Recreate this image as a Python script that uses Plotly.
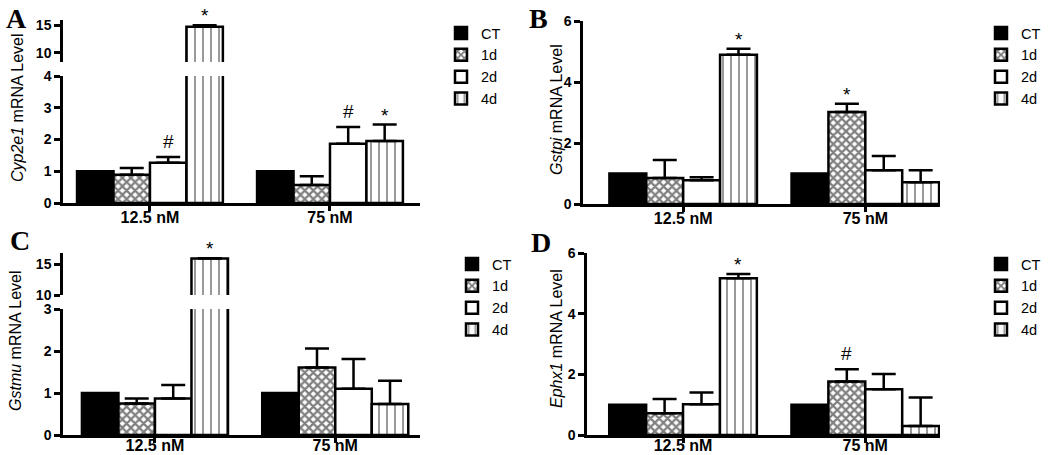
import plotly.graph_objects as go

# ---------------- data ----------------
categories = ["12.5 nM", "75 nM"]
series_names = ["CT", "1d", "2d", "4d"]

# Panel A: Cyp2e1
cyp2e1_mean = {"CT": [1.0, 1.0], "1d": [0.89, 0.57], "2d": [1.27, 1.87], "4d": [14.75, 1.95]}
cyp2e1_err = {"CT": [0.0, 0.0], "1d": [0.21, 0.27], "2d": [0.18, 0.52], "4d": [0.30, 0.52]}
# Panel B: Gstpi
gstpi_mean = {"CT": [1.0, 1.0], "1d": [0.85, 3.02], "2d": [0.78, 1.11], "4d": [4.89, 0.71]}
gstpi_err = {"CT": [0.0, 0.0], "1d": [0.59, 0.27], "2d": [0.10, 0.46], "4d": [0.20, 0.40]}
# Panel C: Gstmu
gstmu_mean = {"CT": [1.0, 1.0], "1d": [0.75, 1.61], "2d": [0.87, 1.10], "4d": [15.9, 0.74]}
gstmu_err = {"CT": [0.0, 0.0], "1d": [0.12, 0.45], "2d": [0.32, 0.71], "4d": [0.05, 0.55]}
# Panel D: Ephx1
ephx1_mean = {"CT": [1.0, 1.0], "1d": [0.72, 1.76], "2d": [1.01, 1.51], "4d": [5.17, 0.30]}
ephx1_err = {"CT": [0.0, 0.0], "1d": [0.47, 0.41], "2d": [0.39, 0.50], "4d": [0.14, 0.94]}

# significance marks: (category index, series, symbol)
marks_A = [(0, "2d", "#"), (0, "4d", "*"), (1, "2d", "#"), (1, "4d", "*")]
marks_B = [(0, "4d", "*"), (1, "1d", "*")]
marks_C = [(0, "4d", "*")]
marks_D = [(0, "4d", "*"), (1, "1d", "#")]

# ---------------- styling ----------------
W, H = 1050, 455
FONT = "Liberation Sans, Arial, sans-serif"
BARGAP = 0.19


def fx(px):
    return px / W


def fy(py):
    return 1 - py / H


styles = {
    "CT": dict(color="black"),
    "1d": dict(color="white", pattern=dict(shape="x", fgcolor="black", bgcolor="white", size=6, solidity=0.6)),
    "2d": dict(color="white"),
    "4d": dict(color="white", pattern=dict(shape="|", fgcolor="black", bgcolor="white", size=8, solidity=0.2)),
}

fig = go.Figure()

panels = [
    # name, means, errs, xaxis, lower y, upper y (or None), legend, marks
    ("A", cyp2e1_mean, cyp2e1_err, "x", "y", "y2", "legend", marks_A),
    ("B", gstpi_mean, gstpi_err, "x2", "y3", None, "legend2", marks_B),
    ("C", gstmu_mean, gstmu_err, "x3", "y4", "y5", "legend3", marks_C),
    ("D", ephx1_mean, ephx1_err, "x4", "y6", None, "legend4", marks_D),
]

for name, means, errs, xa, ya, yb, leg, marks in panels:
    for s in series_names:
        for yax, show in [(ya, True), (yb, False)]:
            if yax is None:
                continue
            fig.add_trace(go.Bar(
                x=categories, y=means[s], name=s,
                xaxis=xa, yaxis=yax, legend=leg, showlegend=show,
                marker=dict(**styles[s], line=dict(color="black", width=2.5)),
                error_y=dict(type="data", symmetric=False, array=errs[s],
                             arrayminus=[0] * len(errs[s]),
                             color="black", thickness=2.5, width=12,
                             visible=any(e > 0 for e in errs[s])),
            ))

layout = dict(
    width=W, height=H, margin=dict(l=0, r=0, t=0, b=0),
    paper_bgcolor="white", plot_bgcolor="white",
    barmode="group", bargap=BARGAP, bargroupgap=0,
    font=dict(family=FONT, color="black"),
    showlegend=True,
)


def xaxis_cfg(px0, px1, ypos_anchor, rng, standoff):
    return dict(domain=[fx(px0), fx(px1)], anchor=ypos_anchor, range=rng,
                showline=True, linecolor="black", linewidth=2.5,
                ticks="outside", ticklen=5, tickwidth=2.5, tickcolor="black",
                ticklabelstandoff=standoff,
                tickfont=dict(family=FONT, size=16, weight="bold", color="black"),
                showgrid=False, zeroline=False, automargin=False, fixedrange=True)


def yaxis_cfg(py_bottom, py_top, xanchor, rng, tickvals):
    return dict(domain=[fy(py_bottom), fy(py_top)], anchor=xanchor, range=rng,
                tickvals=tickvals, showline=True, linecolor="black", linewidth=2.5,
                ticks="outside", ticklen=6, tickwidth=2.5, tickcolor="black",
                tickfont=dict(family=FONT, size=14, weight="bold", color="black"),
                showgrid=False, zeroline=False, automargin=False, fixedrange=True)


layout["xaxis"] = xaxis_cfg(63, 420, "y", [-0.483, 1.5], -7)
layout["yaxis"] = yaxis_cfg(203, 76, "x", [0, 4], [0, 1, 2, 3, 4])
layout["yaxis2"] = yaxis_cfg(62, 20, "x", [8.36, 16.0], [10, 15])
layout["xaxis2"] = xaxis_cfg(583, 940, "y3", [-0.55, 1.41], -7)
layout["yaxis3"] = yaxis_cfg(204, 21, "x2", [0, 6], [0, 2, 4, 6])
layout["xaxis3"] = xaxis_cfg(63, 420, "y4", [-0.51, 1.47], -11)
layout["yaxis4"] = yaxis_cfg(435, 309, "x3", [0, 3], [0, 1, 2, 3])
layout["yaxis5"] = yaxis_cfg(295, 253, "x3", [10, 16.8], [10, 15])
layout["xaxis4"] = xaxis_cfg(587, 940, "y6", [-0.527, 1.41], -11)
layout["yaxis6"] = yaxis_cfg(435, 253, "x4", [0, 6], [0, 2, 4, 6])


def legend_cfg(px, py):
    return dict(x=fx(px), y=fy(py), xanchor="left", yanchor="top",
                font=dict(family=FONT, size=14.5, color="black"),
                bgcolor="rgba(0,0,0,0)", borderwidth=0, traceorder="normal",
                tracegroupgap=0)


layout["legend"] = legend_cfg(441, 17)
layout["legend2"] = legend_cfg(981, 17)
layout["legend3"] = legend_cfg(452, 248)
layout["legend4"] = legend_cfg(981, 248)

annotations = []
# panel letters
for letter, px, py in [("A", 16, 18.5), ("B", 538, 18.5), ("C", 20, 240), ("D", 541, 242)]:
    annotations.append(dict(text=letter, x=fx(px), y=fy(py), xref="paper", yref="paper",
                            showarrow=False, xanchor="center", yanchor="middle",
                            font=dict(family="Liberation Serif, Times New Roman, serif",
                                      size=28, weight="bold", color="black")))
# y-axis titles
for title, px, py in [("<i>Cyp2e1</i> mRNA Level", 17, 108),
                      ("<i>Gstpi</i> mRNA Level", 556, 110),
                      ("<i>Gstmu</i> mRNA Level", 15, 341),
                      ("<i>Ephx1</i> mRNA Level", 556, 339)]:
    annotations.append(dict(text=title, x=fx(px), y=fy(py), xref="paper", yref="paper",
                            showarrow=False, textangle=-90, xanchor="center", yanchor="middle",
                            font=dict(family=FONT, size=16, color="black")))

# significance marks above the error bars
group_w = 1 - BARGAP
bar_w = group_w / len(series_names)
for name, means, errs, xa, ya, yb, leg, marks in panels:
    for ci, s, sym in marks:
        si = series_names.index(s)
        xpos = ci - group_w / 2 + bar_w * (si + 0.5)
        top = means[s][ci] + errs[s][ci]
        yax = ya
        if yb is not None and top > layout["yaxis" + ya[1:]]["range"][1]:
            yax = yb
        annotations.append(dict(text=sym, x=xpos, y=top, xref=xa, yref=yax,
                                showarrow=False, xanchor="center", yanchor="bottom",
                                yshift=-3 if sym == "*" else 3,
                                font=dict(family=FONT, size=19, color="black")))

layout["annotations"] = annotations
fig.update_layout(**layout)
fig.write_html("out.html", config={"displayModeBar": False},
               post_script="document.body.style.margin='0';")
